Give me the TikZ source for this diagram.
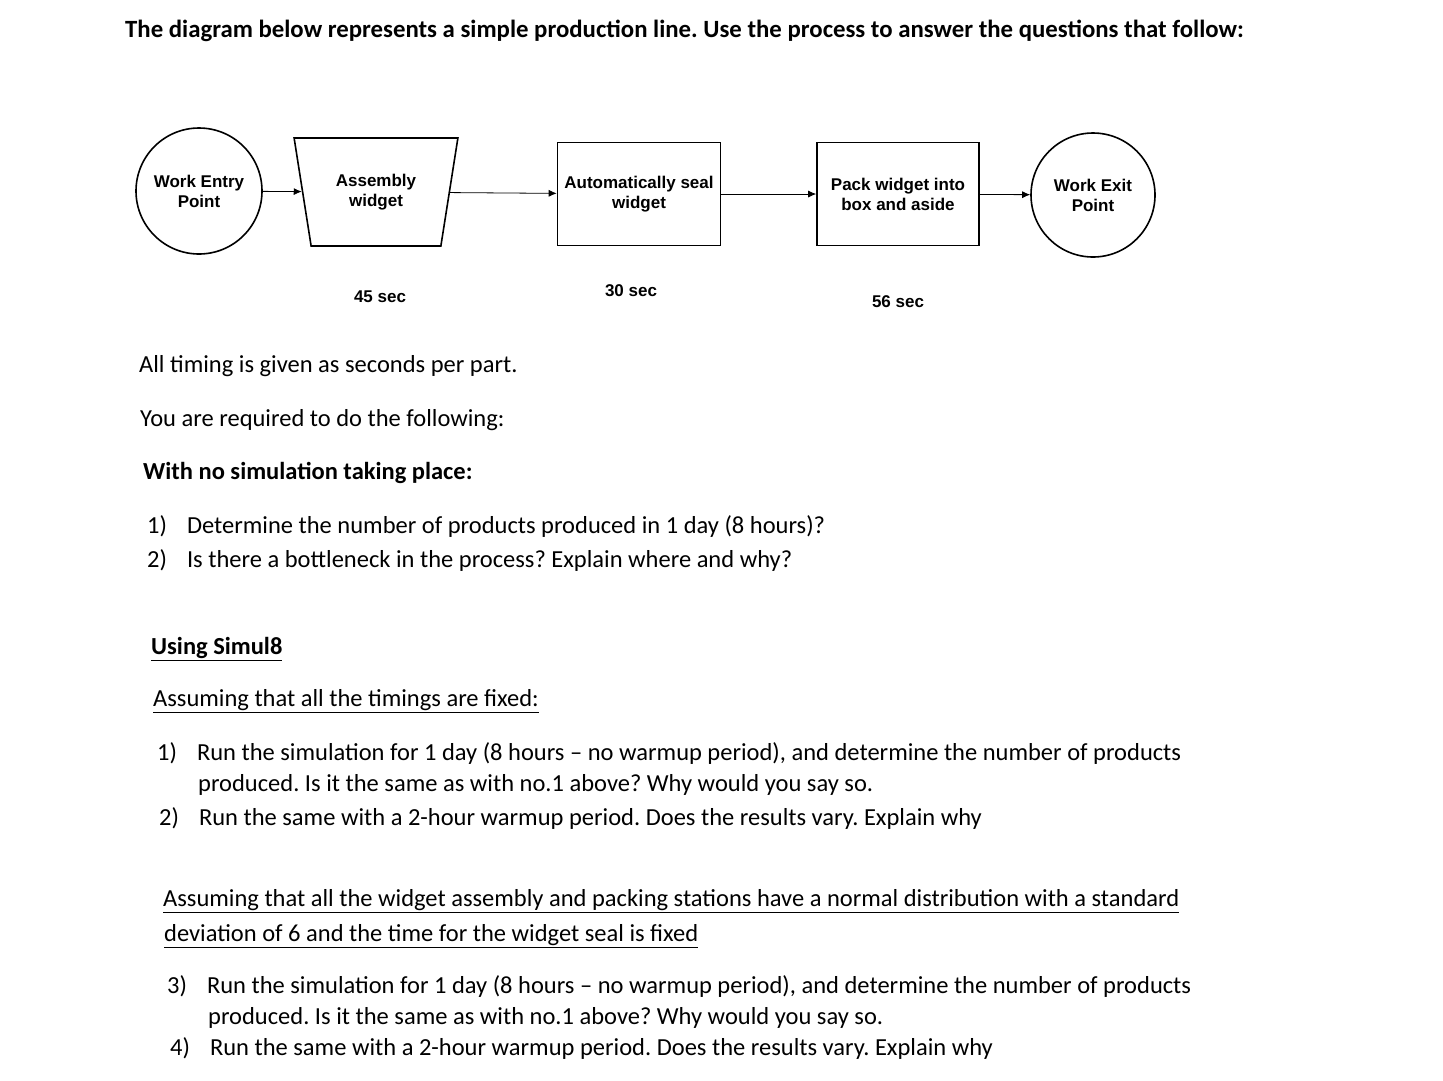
\documentclass[tikz,border=0pt]{standalone}
\usepackage{fontspec}
\setmainfont{Carlito}
\newfontfamily\diagfont{Liberation Sans}
\usetikzlibrary{shapes.geometric,arrows.meta}
\frenchspacing
\begin{document}
\begin{tikzpicture}[x=1pt,y=-1pt,
	line/.style={anchor=west,inner sep=0pt,font=\fontsize{24.5}{28}\selectfont},
	stage/.style={draw,line width=1.6pt,align=center,font=\diagfont\bfseries\fontsize{17}{20}\selectfont},
	flow/.style={-{Latex[length=8pt,width=7pt]},thick}]
	\useasboundingbox[fill=white] (0,0) rectangle (1443,1080);
	\node[line,font=\bfseries\fontsize{24.8}{28}\selectfont] (title) at (125,31) {The diagram below represents a simple production line. Use the process to answer the questions that follow:};

% stages
	\node[stage,circle,minimum size=126pt] (entry) at (199,191) {Work Entry\\Point};
	\node[stage,trapezium,shape border rotate=180,trapezium stretches=true,trapezium angle=75,minimum width=164pt,minimum height=108pt] (assembly) at (376,192) {Assembly\\widget};
	\node[stage,rectangle,minimum width=163pt,minimum height=103pt] (seal) at (639,194) {Automatically seal\\widget};
	\node[stage,rectangle,minimum width=162pt,minimum height=103pt] (pack) at (898,194) {Pack widget into\\box and aside};
	\node[stage,circle,minimum size=124pt] (exit) at (1093,195) {Work Exit\\Point};

	\draw[flow] (entry) -- (assembly);
	\draw[flow] (assembly) -- (seal);
	\draw[flow] (seal) -- (pack);
	\draw[flow] (pack) -- (exit);

	\node[stage,draw=none] (t1) at (380,297) {45 sec};
	\node[stage,draw=none] (t2) at (631,291) {30 sec};
	\node[stage,draw=none] (t3) at (898,302) {56 sec};

% questions
	\node[line] (l1) at (139,366) {All timing is given as seconds per part.};
	\node[line] (l2) at (140,420) {You are required to do the following:};
	\node[line,font=\bfseries\fontsize{24.5}{28}\selectfont] (l3) at (143,473) {With no simulation taking place:};
	\node[line] (q1) at (147,527) {1)\hspace{20pt}Determine the number of products produced in 1 day (8 hours)?};
	\node[line] (q2) at (147,561) {2)\hspace{20pt}Is there a bottleneck in the process? Explain where and why?};

	\node[line,font=\bfseries\fontsize{24.5}{28}\selectfont] (s1) at (151,649) {\underline{Using Simul8}};
	\node[line] (s2) at (153,701) {\underline{Assuming that all the timings are fixed:}};
	\node[line] (r1) at (157,753) {1)\hspace{20pt}Run the simulation for 1 day (8 hours -- no warmup period), and determine the number of products};
	\node[line] (r1b) at (198,785) {produced. Is it the same as with no.1 above? Why would you say so.};
	\node[line] (r2) at (159,818) {2)\hspace{20pt}Run the same with a 2-hour warmup period. Does the results vary. Explain why};

	\node[line] (u1) at (163,901) {\underline{Assuming that all the widget assembly and packing stations have a normal distribution with a standard}};
	\node[line] (u2) at (164,936) {\underline{deviation of 6 and the time for the widget seal is fixed}};
	\node[line] (r3) at (167,986) {3)\hspace{20pt}Run the simulation for 1 day (8 hours -- no warmup period), and determine the number of products};
	\node[line] (r3b) at (208,1018) {produced. Is it the same as with no.1 above? Why would you say so.};
	\node[line] (r4) at (170,1048) {4)\hspace{20pt}Run the same with a 2-hour warmup period. Does the results vary. Explain why};
\end{tikzpicture}
\end{document}
